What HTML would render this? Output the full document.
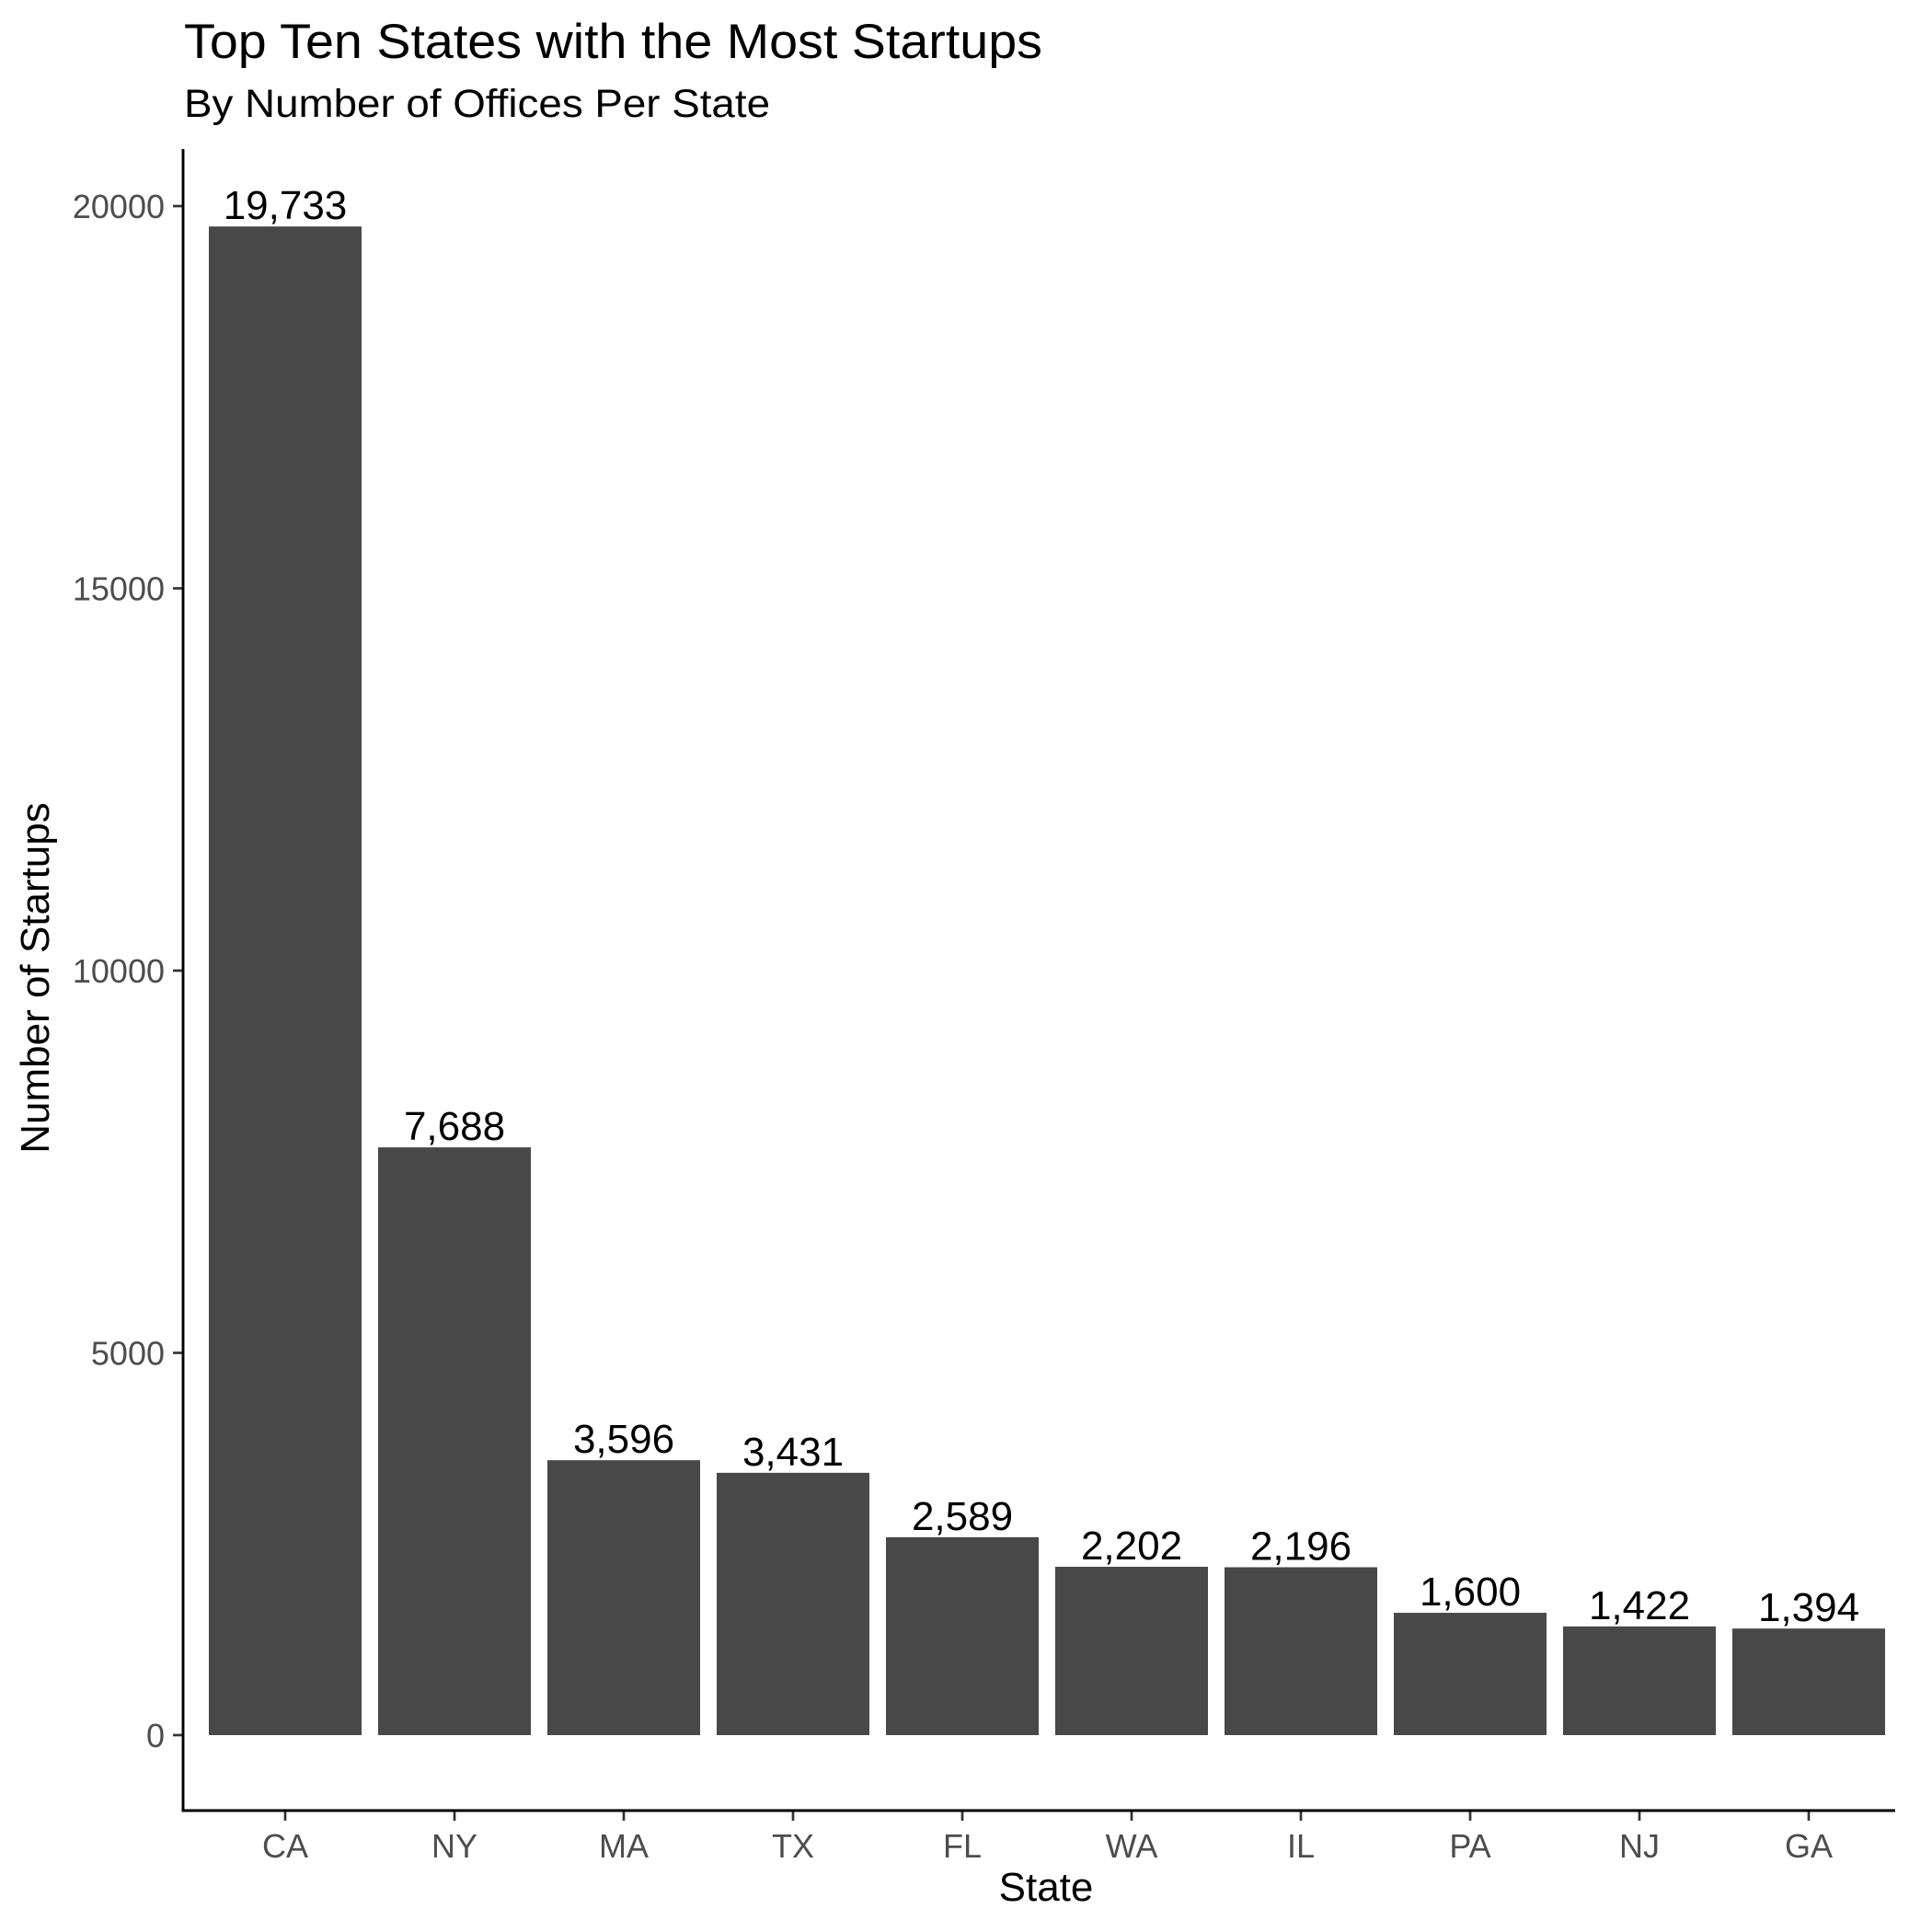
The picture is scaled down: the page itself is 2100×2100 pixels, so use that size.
<!DOCTYPE html>
<html><head><meta charset="utf-8"><style>
html,body{margin:0;padding:0;background:#fff;}
svg{display:block;font-family:"Liberation Sans",Arial,sans-serif;}
</style></head><body>
<svg id="chart" width="2100" height="2100" viewBox="0 0 2100 2100" xmlns="http://www.w3.org/2000/svg">
<text x="200" y="63" font-size="53" fill="#000" textLength="933" lengthAdjust="spacingAndGlyphs">Top Ten States with the Most Startups</text>
<text x="200" y="127" font-size="43" fill="#000" textLength="637" lengthAdjust="spacingAndGlyphs">By Number of Offices Per State</text>
<g id="bars"></g>
<g id="yaxis"></g>
<g id="xaxis"></g>
<text transform="translate(53,1063) rotate(-90)" text-anchor="middle" font-size="44" fill="#000">Number of Startups</text>
<text x="1137" y="2066" text-anchor="middle" font-size="44" fill="#000">State</text>
</svg>
<script>
const categories = ["CA","NY","MA","TX","FL","WA","IL","PA","NJ","GA"];
const values = [19733,7688,3596,3431,2589,2202,2196,1600,1422,1394];
const yTicks = [0,5000,10000,15000,20000];
const yTickLabels = ["0","5000","10000","15000","20000"];

const NS="http://www.w3.org/2000/svg";
const x0=199, yZero=1886, yPerUnit=(1886-224)/20000, band=184, barW=166, firstCenter=310;
function yScale(v){return yZero - v*yPerUnit;}
function xScale(i){return firstCenter + i*band;}
function mk(tag,attrs,parent){const e=document.createElementNS(NS,tag);for(const k in attrs)e.setAttribute(k,attrs[k]);parent.appendChild(e);return e;}
const bars=document.getElementById('bars'), ya=document.getElementById('yaxis'), xa=document.getElementById('xaxis');
categories.forEach((c,i)=>{
  const cx=xScale(i), top=yScale(values[i]);
  const r=mk('rect',{x:cx-barW/2,y:top,width:barW,height:yZero-top,fill:'#484848'},bars);
  
  
  const t=mk('text',{x:cx,y:top-8,'text-anchor':'middle','font-size':'44',fill:'#000'},bars);
  
  
  t.textContent=values[i].toLocaleString('en-US');
  const tk=mk('line',{x1:cx,x2:cx,y1:1968,y2:1979,stroke:'#333','stroke-width':'2.7'},xa);
  
  
  const tl=mk('text',{x:cx,y:2019,'text-anchor':'middle','font-size':'36',fill:'#4d4d4d'},xa);
  
  
  tl.textContent=c;
});
yTicks.forEach((v,i)=>{
  const y=yScale(v);
  const tk=mk('line',{x1:188,x2:199,y1:y,y2:y,stroke:'#333','stroke-width':'2.7'},ya);
  
  
  const tl=mk('text',{x:179,y:y+13,'text-anchor':'end','font-size':'36',fill:'#4d4d4d'},ya);
  
  
  tl.textContent=yTickLabels[i];
});
const yl=mk('line',{x1:x0,x2:x0,y1:162,y2:1969.5,stroke:'#000','stroke-width':'2.9'},ya);


const xl=mk('line',{x1:x0-1.5,x2:2060,y1:1968,y2:1968,stroke:'#000','stroke-width':'2.9'},xa);


</script>
</body></html>
